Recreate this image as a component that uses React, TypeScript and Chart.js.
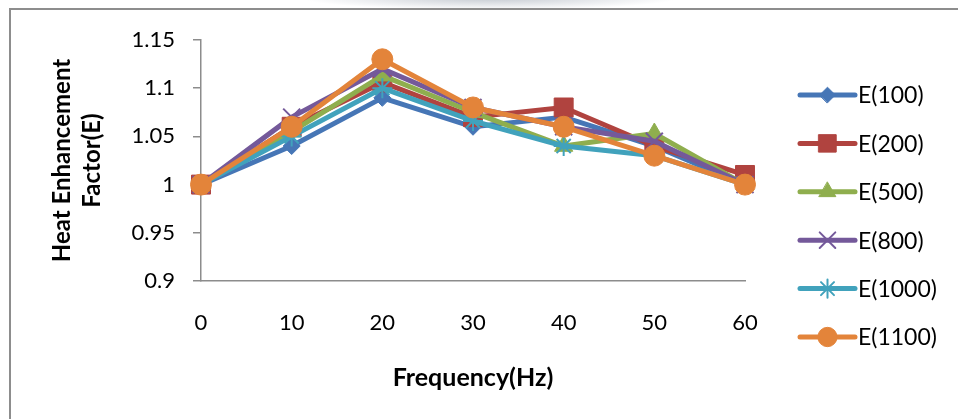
import React, { useEffect, useRef } from 'react';
import { Chart, registerables } from 'chart.js';
import { drawPoint } from 'chart.js/helpers';

Chart.register(...registerables);

// ---- data ----
const frequencies = [0, 10, 20, 30, 40, 50, 60];
const seriesNames = ['E(100)', 'E(200)', 'E(500)', 'E(800)', 'E(1000)', 'E(1100)'];
const e100 = [1.0, 1.04, 1.09, 1.06, 1.07, 1.04, 1.0];
const e200 = [1.0, 1.06, 1.106, 1.07, 1.08, 1.04, 1.01];
const e500 = [1.0, 1.055, 1.113, 1.075, 1.04, 1.053, 1.0];
const e800 = [1.0, 1.07, 1.12, 1.08, 1.06, 1.045, 1.0];
const e1000 = [1.0, 1.05, 1.1, 1.066, 1.04, 1.03, 1.0];
const e1100 = [1.0, 1.06, 1.13, 1.08, 1.06, 1.03, 1.0];
const seriesValues = [e100, e200, e500, e800, e1000, e1100];
const yTickValues = [0.9, 0.95, 1, 1.05, 1.1, 1.15];
const xTickValues = [0, 10, 20, 30, 40, 50, 60];
const yTitle = ['Heat Enhancement', 'Factor(E)'];
const xTitle = 'Frequency(Hz)';

// ---- styles ----
const colors = ['#4676B6', '#B0433F', '#8FAE4E', '#74599A', '#41A2BC', '#E3843A'];
const pointStyles = ['rectRot', 'rect', 'triangle', 'crossRot', 'star', 'circle'];
const pointRadii = [8.5, 13.4, 10.5, 12, 10, 10.5];
const pointBorderWidths = [1, 1, 1, 2, 2, 1];
const FONT = 'Lato';

const sideLegend = {
  id: 'sideLegend',
  afterDraw(chart: any) {
    const ctx = chart.ctx;
    const area = chart.chartArea;
    const x0 = area.right + 55;
    const lineLen = 55;
    const y0 = 95;
    const gap = 48.4;
    chart.data.datasets.forEach((ds: any, i: number) => {
      const y = y0 + i * gap;
      ctx.save();
      ctx.strokeStyle = ds.borderColor;
      ctx.lineWidth = 5;
      ctx.lineCap = 'round';
      ctx.beginPath();
      ctx.moveTo(x0, y);
      ctx.lineTo(x0 + lineLen, y);
      ctx.stroke();
      ctx.fillStyle = ds.pointBackgroundColor;
      ctx.strokeStyle = ds.pointBorderColor;
      ctx.lineWidth = ds.pointBorderWidth;
      drawPoint(
        ctx,
        { pointStyle: ds.pointStyle, radius: ds.pointRadius * 0.92, rotation: 0, borderWidth: ds.pointBorderWidth },
        x0 + lineLen / 2,
        y
      );
      ctx.fillStyle = '#000';
      ctx.font = `23px ${FONT}`;
      ctx.textBaseline = 'middle';
      ctx.textAlign = 'left';
      ctx.fillText(seriesNames[i], x0 + lineLen + 3, y + 1);
      ctx.restore();
    });
  },
};

export default function App() {
  const ref = useRef<HTMLCanvasElement | null>(null);

  useEffect(() => {
    if (!ref.current) return;
    const datasets = seriesNames.map((name, i) => ({
      label: name,
      data: frequencies.map((f, j) => ({ x: f, y: seriesValues[i][j] })),
      borderColor: colors[i],
      backgroundColor: colors[i],
      borderWidth: 5,
      borderJoinStyle: 'round',
      borderCapStyle: 'round',
      pointStyle: pointStyles[i],
      pointRadius: pointRadii[i],
      pointBackgroundColor: colors[i],
      pointBorderColor: colors[i],
      pointBorderWidth: pointBorderWidths[i],
      tension: 0,
      clip: false,
      order: seriesNames.length - i,
    }));

    const chart = new Chart(ref.current, {
      type: 'line',
      data: { datasets } as any,
      plugins: [sideLegend],
      options: {
        animation: false,
        responsive: false,
        devicePixelRatio: 1,
        layout: { padding: { left: 0, top: 40, right: 213, bottom: 0 } },
        plugins: { legend: { display: false }, tooltip: { enabled: false } },
        scales: {
          x: {
            type: 'linear',
            min: 0,
            max: 60,
            afterBuildTicks: (s: any) => {
              s.ticks = xTickValues.map((v) => ({ value: v }));
            },
            afterFit: (s: any) => {
              s.height = 138;
            },
            grid: { display: false, drawTicks: false },
            border: { display: true, color: '#8c8c8c', width: 1.5 },
            ticks: {
              color: '#000',
              padding: 29,
              font: { family: FONT, size: 22 },
              maxRotation: 0,
            },
            title: {
              display: true,
              text: xTitle,
              color: '#000',
              font: { family: FONT, size: 25, weight: 'bold', lineHeight: 1.2 },
              padding: { top: 0, bottom: 26 },
            },
          },
          y: {
            type: 'linear',
            min: 0.9,
            max: 1.15,
            afterBuildTicks: (s: any) => {
              s.ticks = yTickValues.map((v) => ({ value: v }));
            },
            afterFit: (s: any) => {
              s.width = 201;
            },
            grid: {
              display: true,
              drawOnChartArea: false,
              drawTicks: true,
              tickLength: 8,
              color: '#8c8c8c',
              lineWidth: 1.5,
            },
            border: { display: true, color: '#8c8c8c', width: 1.5 },
            ticks: {
              color: '#000',
              padding: 18,
              font: { family: FONT, size: 22 },
              callback: (v: any) => String(Number(Number(v).toFixed(2))),
            },
            title: {
              display: true,
              text: yTitle,
              color: '#000',
              font: { family: FONT, size: 24, weight: 'bold', lineHeight: '30px' },
              padding: { top: 47, bottom: 0 },
            },
          },
        },
      } as any,
    });
    return () => chart.destroy();
  }, []);

  return (
    <div
      style={{
        position: 'fixed',
        left: 0,
        top: 0,
        width: 958,
        height: 419,
        background: '#fff',
        overflow: 'hidden',
      }}
    >
      <div
        style={{
          position: 'absolute',
          left: 300,
          top: -14,
          width: 380,
          height: 24,
          background: 'radial-gradient(ellipse at center, rgba(190,196,204,0.9) 0%, rgba(255,255,255,0) 70%)',
        }}
      />
      <div
        style={{
          position: 'absolute',
          left: 9,
          top: 8,
          width: 980,
          height: 440,
          borderLeft: '2px solid #8d8d8d',
          borderTop: '2px solid #8d8d8d',
          boxSizing: 'border-box',
        }}
      />
      <canvas ref={ref} width={958} height={419} style={{ position: 'absolute', left: 0, top: 0 }} />
    </div>
  );
}
